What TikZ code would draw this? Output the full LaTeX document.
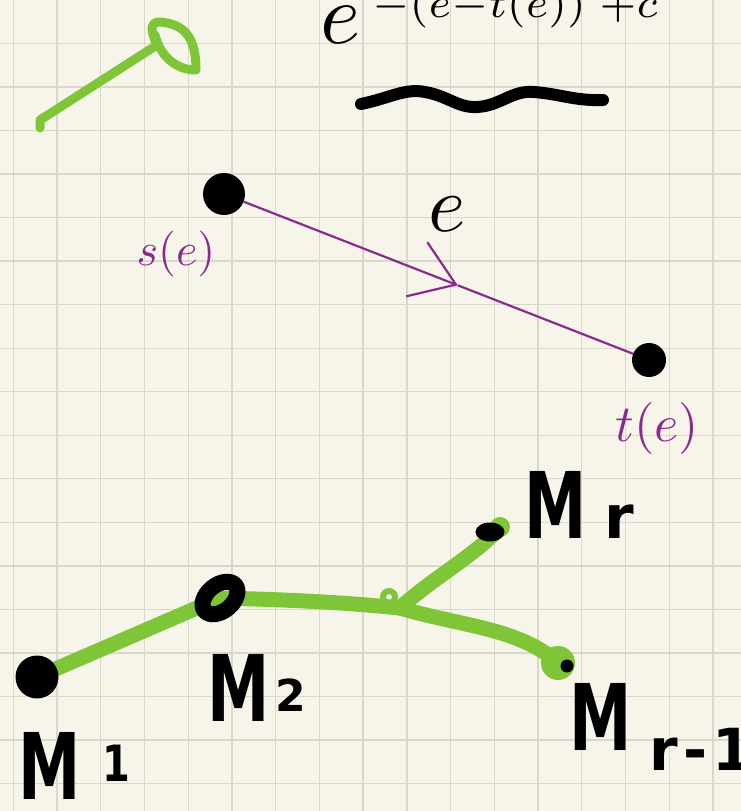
\documentclass[tikz,border=0pt]{standalone}
\usepackage{fontspec}
\usepackage{graphicx}
\newfontfamily\handfont{DejaVu Sans}
\usetikzlibrary{arrows.meta, calc, shapes.geometric}

\definecolor{paper}{HTML}{F7F5EA}
\definecolor{gridgray}{HTML}{DAD8CC}
\definecolor{penpurple}{HTML}{8A2A8C}
\definecolor{pengreen}{HTML}{7EC537}

% big marker M with a small index
\newcommand{\mlab}[3][0pt]{\scalebox{0.68}[1]{M}\kern#2\raisebox{#1}{#3}}

\begin{document}
\begin{tikzpicture}[x=1pt, y=-1pt,
    blackdot/.style={circle, fill=black, inner sep=0pt, minimum size=#1},
    gridline/.style={draw=gridgray, line width=1.3pt},
    pen/.style={draw=penpurple, line width=2.2pt},
    marker/.style={draw=pengreen, line width=15pt, line cap=round, line join=round},
    ring/.style={ellipse, draw=black, line width=16pt, minimum width=40pt, minimum height=26pt, inner sep=0pt, rotate=40},
    greenblob/.style={circle, fill=pengreen, inner sep=0pt, minimum size=#1},
    thinhand/.style={inner sep=0pt},
    purplelabel/.style={inner sep=0pt, text=penpurple},
    mlabel/.style={inner sep=0pt, anchor=base west, font=\handfont\bfseries\fontsize{92}{92}\selectfont}
]

% paper and grid
\path[fill=paper] (0,0) rectangle (741,811);
\useasboundingbox (0,0) rectangle (741,811);
\clip (0,0) rectangle (741,811);
\foreach \i in {0,...,16}
    \draw[gridline] ({13.2+43.74*\i},0) -- ({13.2+43.74*\i},811);
\foreach \j in {0,...,18}
    \draw[gridline] (0,{-0.25+43.55*\j}) -- (741,{-0.25+43.55*\j});

% top: cut formula, stroke and wave
\node[thinhand, anchor=base west] (formula) at (320,43)
    {\scalebox{8.6}{$e$}\kern12pt\raisebox{25pt}{\scalebox{6}{$\scriptstyle -(e-t(e))\;+c$}}};
\draw[marker, line width=9pt] (40,128) -- (40,120) -- (157,45)
    .. controls (150,30) and (150,22) .. (160,22)
    .. controls (185,24) and (196,38) .. (196,70)
    .. controls (175,70) and (160,55) .. (155,35);
\draw[line width=12pt, line cap=round] (361,104)
    .. controls (390,98) and (405,88) .. (425,92)
    .. controls (448,96) and (458,108) .. (477,107)
    .. controls (500,106) and (512,90) .. (534,92)
    .. controls (560,94) and (575,101) .. (603,100);

% edge e from s(e) to t(e)
\node[blackdot=42pt] (se) at (224,194) {};
\node[blackdot=34pt] (te) at (649,360) {};
\coordinate (mid) at ($(se.center)!0.55!(te.center)$);
\draw[pen, -{Straight Barb[length=42pt, width=58pt]}] (se) -- (mid);
\draw[pen] (mid) -- (te);
\node[thinhand] (elabel) at (447,214) {\scalebox{8}{$e$}};
\node[purplelabel] (slabel) at (176,254) {\scalebox{4.6}{$s(e)$}};
\node[purplelabel] (tlabel) at (657,428) {\scalebox{5.2}{$t(e)$}};

% green tree
\coordinate (m1c) at (37,677);
\coordinate (m2c) at (220,598);
\coordinate (j) at (400,608);
\coordinate (mrc) at (500,527);
\coordinate (mr1c) at (558,663);
\draw[marker] (m1c) -- (m2c);
\draw[marker] (m2c) .. controls (300,600) and (350,603) .. (j);
\draw[marker] (j) .. controls (430,580) and (480,552) .. (mrc);
\draw[marker] (j) .. controls (460,626) and (520,628) .. (mr1c);
\draw[draw=pengreen, line width=6pt] (389,597) circle (6);
\node[greenblob=20pt] (mrcap) at (mrc) {};
\node[greenblob=34pt] (mr1cap) at (mr1c) {};
\node[blackdot=43pt] (m1) at (m1c) {};
\node[ring] (m2) at (m2c) {};
\node[ellipse, fill=black, inner sep=0pt, minimum width=29pt, minimum height=19pt] (mr) at (490,532) {};
\node[blackdot=13pt] (mr1) at (567,666) {};

% labels
\node[mlabel] (m1label) at (18,799) {\mlab[18pt]{22pt}{\scalebox{0.8}[1]{\fontsize{50}{50}\selectfont 1}}};
\node[mlabel] (m2label) at (207,721) {\mlab[10pt]{6pt}{\fontsize{44}{44}\selectfont 2}};
\node[mlabel] (mrlabel) at (524,538) {\mlab{18pt}{\fontsize{60}{60}\selectfont r}};
\node[mlabel] (mr1label) at (569,750) {\mlab[-20pt]{18pt}{\fontsize{58}{58}\selectfont r\kern5pt-\kern5pt1}};

\end{tikzpicture}
\end{document}
